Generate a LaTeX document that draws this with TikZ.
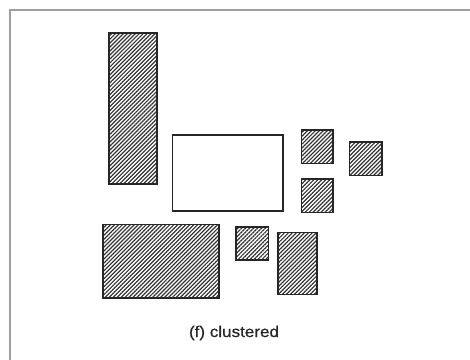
\documentclass[tikz,border=0pt]{standalone}
\usepackage{fontspec}
\setmainfont{Liberation Sans}
\usetikzlibrary{patterns.meta}
\tikzset{
  hatchbox/.style={draw=black!85, line width=1.6pt,
    pattern={Lines[angle=45, distance=2.8pt, line width=1.2pt]}, pattern color=black!80},
  plainbox/.style={draw=black!85, line width=1.6pt, fill=white},
  framedge/.style={draw=black!38, line width=2pt},
  caption/.style={font=\fontsize{15.5}{18}\selectfont, anchor=base, xscale=1.1, text=black!85}
}
\begin{document}
\begin{tikzpicture}[x=1pt, y=-1pt]
  \useasboundingbox (0,0) rectangle (470,359);
  \fill[white] (0,0) rectangle (470,359);
  \draw[framedge] (10,360) -- (10,10) -- (471,10);
  % tall left
  \path[hatchbox] (108.7,33) rectangle (157,183.7);
  % white center
  \path[plainbox] (172.3,135) rectangle (282.7,210.7);
  % small squares right
  \path[hatchbox] (301.3,130) rectangle (333,163.3);
  \path[hatchbox] (349.3,142) rectangle (381.7,175.3);
  \path[hatchbox] (301.3,179) rectangle (333,212.3);
  % bottom row
  \path[hatchbox] (103,224.3) rectangle (219,297.7);
  \path[hatchbox] (236,226.7) rectangle (268.3,259.7);
  \path[hatchbox] (277.7,232.3) rectangle (316.7,294.3);
  \node[caption] (cap) at (234,337) {\addfontfeatures{FakeBold=0.6}(f) clustered};
\end{tikzpicture}
\end{document}
